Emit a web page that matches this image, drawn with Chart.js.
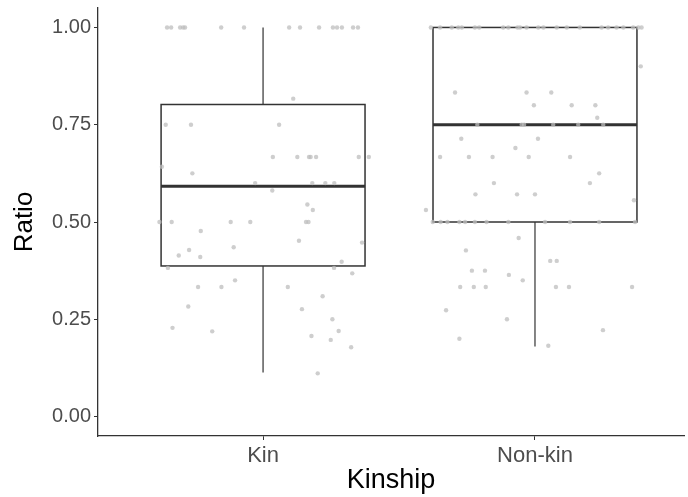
<!DOCTYPE html>
<html>
<head>
<meta charset="utf-8">
<script src="https://cdn.jsdelivr.net/npm/chart.js@4"></script>
<style>
  body { margin: 0; background: #fff; }
  #wrap { width: 688px; height: 497px; }
</style>
</head>
<body>
<div id="wrap"><canvas id="chartKin"></canvas></div>
<script>
// Categories and box statistics
const categories = ["Kin", "Non-kin"];
const whiskerLow = [0.113, 0.18];
const boxQ1 = [0.387, 0.5];
const boxMedian = [0.592, 0.75];
const boxQ3 = [0.802, 1.0];
const whiskerHigh = [1.0, 1.0];
const yTicks = [0, 0.25, 0.5, 0.75, 1];

// Jittered points (x = category position + jitter)
const kinJitterX = [
  0.647, 0.662, 0.695, 0.706, 0.713, 0.846, 0.930, 1.096, 1.136, 1.206, 1.257, 1.272, 1.290, 1.331, 1.349,
  1.111, 0.642, 0.735, 1.059,
  1.036, 1.126, 1.169, 1.175, 1.195, 1.352, 1.389,
  0.628, 0.740, 0.971, 1.181, 1.229, 1.262, 1.034, 1.163, 1.183,
  0.619, 0.664, 0.881, 0.953, 1.158, 1.167,
  0.771, 1.132, 1.364, 0.892, 0.728, 0.690, 0.769, 1.289, 0.650, 1.261, 1.328, 0.897,
  0.761, 0.847, 1.091, 1.219, 0.725, 1.143, 1.255, 0.667, 1.278, 0.813, 1.178, 1.249, 1.324, 1.201
];
const kinRatio = [
  1, 1, 1, 1, 1, 1, 1, 1, 1, 1, 1, 1, 1, 1, 1,
  0.817, 0.75, 0.75, 0.75,
  0.667, 0.667, 0.667, 0.667, 0.667, 0.667, 0.667,
  0.642, 0.625, 0.6, 0.6, 0.6, 0.6, 0.581, 0.545, 0.531,
  0.5, 0.5, 0.5, 0.5, 0.5, 0.5,
  0.477, 0.452, 0.447, 0.435, 0.428, 0.414, 0.41, 0.398, 0.382, 0.382, 0.368, 0.35,
  0.333, 0.333, 0.333, 0.309, 0.283, 0.276, 0.25, 0.228, 0.22, 0.219, 0.207, 0.197, 0.178, 0.111
];
const nonKinJitterX = [
  1.617, 1.651, 1.694, 1.718, 1.731, 1.779, 1.795, 1.883, 1.902, 1.936, 1.945, 1.969,
  2.012, 2.031, 2.080, 2.117, 2.165, 2.245, 2.269, 2.300, 2.325, 2.361, 2.380, 2.392,
  2.389, 1.706, 1.969, 2.060, 1.996, 2.135, 2.222, 2.229,
  1.788, 1.951, 1.960, 2.067, 2.159, 2.251,
  1.729, 2.011, 1.928,
  1.651, 1.757, 1.844, 1.977, 2.129,
  2.236, 1.849, 2.202, 1.781, 1.934, 2.0, 2.364, 1.599,
  1.624, 1.653, 1.678, 1.722, 1.743, 1.779, 1.822, 1.902, 2.037, 2.129, 2.236, 2.368,
  1.940, 1.746, 2.056, 2.080, 1.768, 1.816, 1.904, 1.955, 1.725, 1.775, 1.819, 2.077, 2.125, 2.357,
  1.673, 1.897, 2.25, 1.722, 2.049
];
const nonKinRatio = [
  1, 1, 1, 1, 1, 1, 1, 1, 1, 1, 1, 1,
  1, 1, 1, 1, 1, 1, 1, 1, 1, 1, 1, 1,
  0.9, 0.833, 0.833, 0.833, 0.8, 0.8, 0.8, 0.768,
  0.75, 0.75, 0.75, 0.75, 0.75, 0.75,
  0.714, 0.714, 0.69,
  0.667, 0.667, 0.667, 0.667, 0.667,
  0.625, 0.6, 0.6, 0.571, 0.571, 0.571, 0.556, 0.531,
  0.5, 0.5, 0.5, 0.5, 0.5, 0.5, 0.5, 0.5, 0.5, 0.5, 0.5, 0.5,
  0.459, 0.427, 0.4, 0.4, 0.375, 0.375, 0.364, 0.35, 0.333, 0.333, 0.333, 0.333, 0.333, 0.333,
  0.273, 0.25, 0.222, 0.2, 0.182
];

const toPoints = (xs, ys) => xs.map((x, i) => ({ x: x, y: ys[i] }));

// Box plots drawn under the points, through the chart scales
const boxPlugin = {
  id: "boxPlugin",
  beforeDatasetsDraw(chart) {
    const { ctx, scales: { x, y } } = chart;
    const halfWidth = 0.375;
    ctx.save();
    ctx.strokeStyle = "#333333";
    categories.forEach((cat, i) => {
      const pos = i + 1;
      const xl = x.getPixelForValue(pos - halfWidth);
      const xr = x.getPixelForValue(pos + halfWidth);
      const xc = x.getPixelForValue(pos);
      // whiskers
      ctx.lineWidth = 1.2;
      ctx.beginPath();
      ctx.moveTo(xc, y.getPixelForValue(boxQ3[i]));
      ctx.lineTo(xc, y.getPixelForValue(whiskerHigh[i]));
      ctx.moveTo(xc, y.getPixelForValue(boxQ1[i]));
      ctx.lineTo(xc, y.getPixelForValue(whiskerLow[i]));
      ctx.stroke();
      // box
      const yTop = y.getPixelForValue(boxQ3[i]);
      const yBot = y.getPixelForValue(boxQ1[i]);
      ctx.lineWidth = 1.5;
      ctx.strokeRect(xl, yTop, xr - xl, yBot - yTop);
      // median
      ctx.lineWidth = 3;
      ctx.beginPath();
      ctx.moveTo(xl, y.getPixelForValue(boxMedian[i]));
      ctx.lineTo(xr, y.getPixelForValue(boxMedian[i]));
      ctx.stroke();
    });
    ctx.restore();
  }
};

const fontFamily = "'Liberation Sans', Arial, sans-serif";

new Chart(document.getElementById("chartKin").getContext("2d"), {
  type: "scatter",
  data: {
    datasets: [
      {
        label: "Kin",
        data: toPoints(kinJitterX, kinRatio),
        backgroundColor: "rgba(190, 190, 190, 0.75)",
        borderWidth: 0,
        pointRadius: 2.2
      },
      {
        label: "Non-kin",
        data: toPoints(nonKinJitterX, nonKinRatio),
        backgroundColor: "rgba(190, 190, 190, 0.75)",
        borderWidth: 0,
        pointRadius: 2.2
      }
    ]
  },
  options: {
    responsive: true,
    maintainAspectRatio: false,
    animation: false,
    layout: { padding: { top: 8, right: 0, left: 0, bottom: 0 } },
    plugins: {
      legend: { display: false },
      tooltip: { enabled: false }
    },
    scales: {
      x: {
        type: "linear",
        min: 0.393,
        max: 2.548,
        afterBuildTicks: (s) => { s.ticks = [{ value: 1 }, { value: 2 }]; },
        afterFit: (s) => { s.height = 61; s.paddingLeft = 0; s.paddingRight = 0; },
        ticks: {
          callback: (v) => categories[v - 1],
          color: "#4d4d4d",
          font: { family: fontFamily, size: 22 },
          padding: 3,
          maxRotation: 0,
          autoSkip: false
        },
        grid: { drawOnChartArea: false, drawTicks: true, tickLength: 4, color: "#333333" },
        border: { display: true, color: "#333333", width: 1.3 },
        title: { display: true, text: "Kinship", color: "#000", font: { family: fontFamily, size: 27 }, padding: { top: 0, bottom: 0 } }
      },
      y: {
        min: -0.05,
        max: 1.05,
        afterBuildTicks: (s) => { s.ticks = yTicks.map((v) => ({ value: v })); },
        afterFit: (s) => { s.width = 98; s.paddingTop = 0; s.paddingBottom = 0; },
        ticks: {
          callback: (v) => v.toFixed(2),
          color: "#4d4d4d",
          font: { family: fontFamily, size: 20 },
          padding: 3
        },
        grid: { drawOnChartArea: false, drawTicks: true, tickLength: 4, color: "#333333" },
        border: { display: true, color: "#333333", width: 1.3 },
        title: { display: true, text: "Ratio", color: "#000", font: { family: fontFamily, size: 26 }, padding: { top: 9, bottom: 0 } }
      }
    }
  },
  plugins: [boxPlugin]
});
</script>
</body>
</html>
